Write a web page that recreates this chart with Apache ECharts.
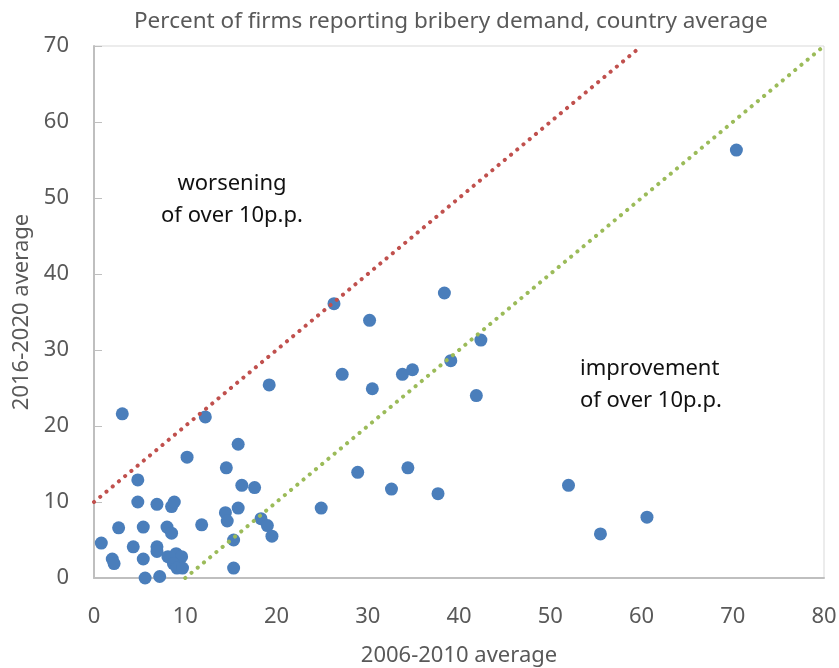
<!DOCTYPE html>
<html>
<head>
<meta charset="utf-8">
<script src="https://cdn.jsdelivr.net/npm/echarts@6/dist/echarts.min.js"></script>
<style>
  html, body { margin: 0; padding: 0; background: #fff; }
  #scatterChart { width: 839px; height: 668px; }
</style>
</head>
<body>
<div id="scatterChart"></div>
<script>
// 2006-2010 average (x) vs 2016-2020 average (y), one point per country
const avg0610 = [
  0.8, 2.0, 2.2, 2.7, 3.1, 4.3, 4.8, 4.8, 5.4, 5.4,
  5.6, 6.9, 6.9, 6.9, 7.2, 8.0, 8.5, 8.5, 8.8, 8.1,
  9.0, 9.6, 8.7, 9.1, 9.7, 10.2, 11.8, 12.2, 14.4, 14.5,
  14.6, 15.3, 15.3, 15.8, 15.8, 16.2, 17.6, 18.3, 19.0, 19.5,
  19.2, 24.9, 26.3, 27.2, 28.9, 30.2, 30.5, 32.6, 33.8, 34.4,
  34.9, 37.7, 38.4, 39.1, 41.9, 42.4, 52.0, 55.5, 60.6, 70.4
];
const avg1620 = [
  4.6, 2.5, 1.9, 6.6, 21.6, 4.1, 12.9, 10.0, 6.7, 2.5,
  0.0, 9.7, 4.1, 3.5, 0.2, 6.7, 5.9, 9.4, 10.0, 2.8,
  3.2, 2.8, 1.9, 1.3, 1.3, 15.9, 7.0, 21.2, 8.6, 14.5,
  7.5, 5.0, 1.3, 17.6, 9.2, 12.2, 11.9, 7.8, 6.9, 5.5,
  25.4, 9.2, 36.1, 26.8, 13.9, 33.9, 24.9, 11.7, 26.8, 14.5,
  27.4, 11.1, 37.5, 28.6, 24.0, 31.3, 12.2, 5.8, 8.0, 56.3
];
// reference lines: +10 p.p. and -10 p.p.
const worseningLine = [[0, 10], [60, 70]];
const improvementLine = [[10, 0], [80, 70]];
const xRange = [0, 80];
const yRange = [0, 70];
const tickStep = 10;

const points = avg0610.map((v, i) => [v, avg1620[i]]);

const chart = echarts.init(document.getElementById('scatterChart'));
const font = 'Noto Sans';
const grayText = '#595959';

const option = {
  animation: false,
  title: {
    text: 'Percent of firms reporting bribery demand, country average',
    left: 129,
    top: 5,
    textStyle: { fontFamily: font, fontSize: 22.5, fontWeight: 'normal', color: grayText }
  },
  grid: {
    left: 94, right: 15, top: 46, bottom: 90,
    outerBoundsMode: 'none',
    containLabel: false,
    show: true, borderColor: '#D9D9D9', borderWidth: 1
  },
  xAxis: {
    type: 'value',
    min: xRange[0], max: xRange[1], interval: tickStep,
    name: '2006-2010 average',
    nameLocation: 'middle',
    nameGap: 67,
    nameTextStyle: { fontFamily: font, fontSize: 22, color: grayText },
    axisLine: { lineStyle: { color: '#BFBFBF', width: 2 } },
    axisTick: { show: false },
    axisLabel: { fontFamily: font, fontSize: 22, color: grayText, margin: 28 },
    splitLine: { show: false }
  },
  yAxis: {
    type: 'value',
    min: yRange[0], max: yRange[1], interval: tickStep,
    name: '2016-2020 average',
    nameLocation: 'middle',
    nameGap: 60,
    nameTextStyle: { fontFamily: font, fontSize: 22, color: grayText },
    axisLine: { show: true, lineStyle: { color: '#BFBFBF', width: 2 } },
    axisTick: { show: true, inside: true, length: 8, lineStyle: { color: '#BFBFBF', width: 1 } },
    axisLabel: { fontFamily: font, fontSize: 22, color: grayText, margin: 25, padding: [6, 0, 0, 0] },
    splitLine: { show: false }
  },
  graphic: [
    {
      type: 'text', x: 232, y: 168,
      style: {
        text: 'worsening\nof over 10p.p.', fill: '#111', align: 'center',
        font: '22px "Noto Sans"', lineHeight: 32
      }
    },
    {
      type: 'text', x: 580, y: 353,
      style: {
        text: 'improvement\nof over 10p.p.', fill: '#111', align: 'left',
        font: '22px "Noto Sans"', lineHeight: 32
      }
    }
  ],
  series: [
    {
      type: 'scatter',
      data: points,
      symbol: 'circle',
      symbolSize: 13,
      itemStyle: { color: '#4A7EBB', opacity: 1 },
      z: 2
    },
    {
      type: 'line',
      data: worseningLine,
      symbol: 'none',
      lineStyle: { color: '#C0504D', width: 4, type: [0.1, 8], cap: 'round' },
      z: 3
    },
    {
      type: 'line',
      data: improvementLine,
      symbol: 'none',
      lineStyle: { color: '#9BBB59', width: 4, type: [0.1, 8], cap: 'round' },
      z: 3
    }
  ]
};

chart.setOption(option);
</script>
</body>
</html>
